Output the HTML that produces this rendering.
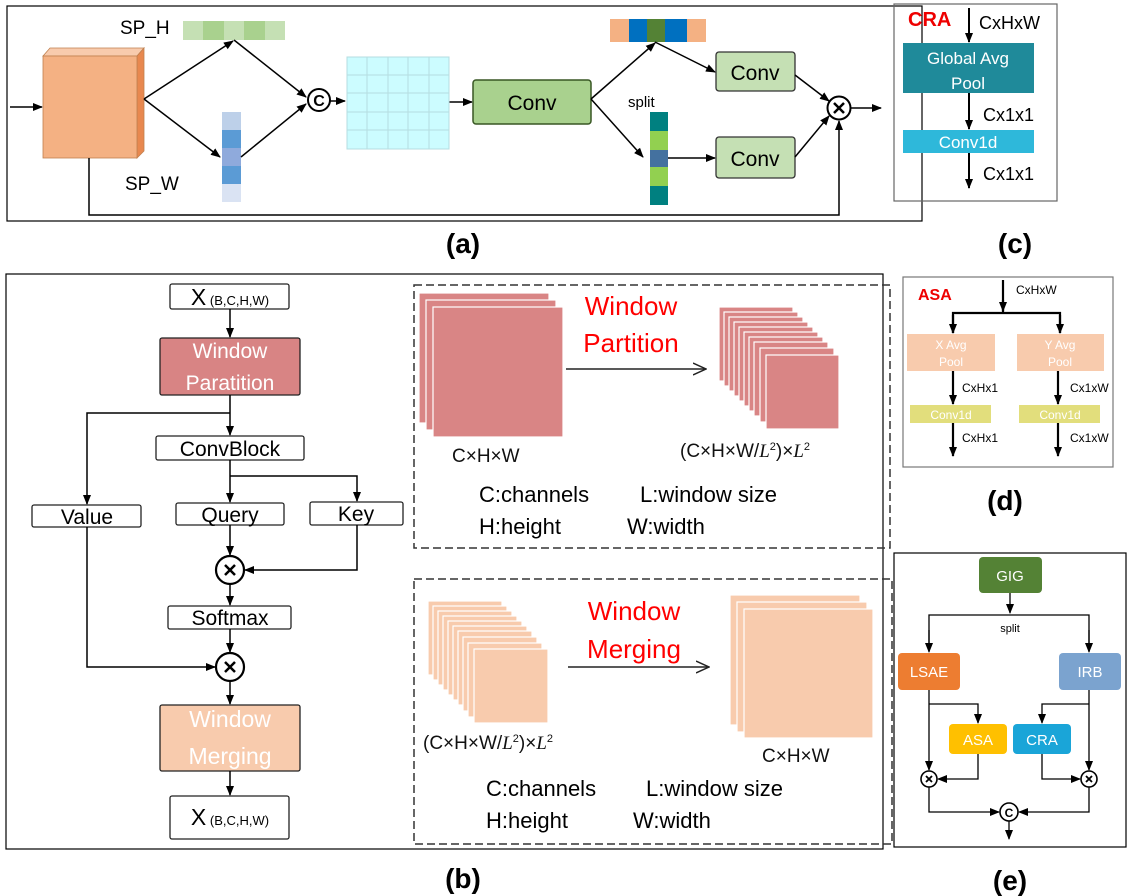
<!DOCTYPE html>
<html><head><meta charset="utf-8"><style>
html,body{margin:0;padding:0;background:#fff;}
svg{display:block;font-family:"Liberation Sans",sans-serif;}
</style></head><body>
<svg width="1132" height="896" viewBox="0 0 1132 896" xmlns="http://www.w3.org/2000/svg">
<defs>
<marker id="a" markerWidth="10" markerHeight="10" refX="9" refY="5" orient="auto" markerUnits="userSpaceOnUse"><path d="M0,1 L10,5 L0,9 z" fill="#000"/></marker>
<marker id="o" markerWidth="14" markerHeight="14" refX="13" refY="7" orient="auto" markerUnits="userSpaceOnUse"><path d="M0,1 L13,7 L0,13" fill="none" stroke="#222" stroke-width="1.5"/></marker>
</defs>
<g stroke="#000" stroke-width="1.5" fill="none">
<rect x="7" y="6" width="915" height="215" stroke-width="1.2"/>
<line x1="10" y1="107" x2="42" y2="107" marker-end="url(#a)"/>
</g>
<polygon points="43,56 50,48 144,48 137,56" fill="#F8CBAD" stroke="#C0804F" stroke-width="0.8"/>
<polygon points="137,56 144,48 144,151 137,158" fill="#E8884F" stroke="#C0804F" stroke-width="0.8"/>
<rect x="43" y="56" width="94" height="102" fill="#F4B183" stroke="#C0804F" stroke-width="0.8"/>
<text x="120" y="34" font-size="19">SP_H</text>
<text x="125" y="190" font-size="19">SP_W</text>
<rect x="183" y="21" width="20" height="19" fill="#C5E0B4"/><rect x="203" y="21" width="21" height="19" fill="#A9D18E"/><rect x="224" y="21" width="20" height="19" fill="#C5E0B4"/><rect x="244" y="21" width="21" height="19" fill="#A9D18E"/><rect x="265" y="21" width="20" height="19" fill="#C5E0B4"/>
<rect x="222" y="112" width="19" height="18" fill="#BDD0E9"/><rect x="222" y="130" width="19" height="18" fill="#5B9BD5"/><rect x="222" y="148" width="19" height="18" fill="#8FAADC"/><rect x="222" y="166" width="19" height="18" fill="#5B9BD5"/><rect x="222" y="184" width="19" height="18" fill="#DAE3F3"/>
<g stroke="#000" stroke-width="1.5" fill="none">
<line x1="144" y1="99" x2="233" y2="41" marker-end="url(#a)"/>
<line x1="144" y1="99" x2="220" y2="157" marker-end="url(#a)"/>
<line x1="234" y1="40" x2="306" y2="97" marker-end="url(#a)"/>
<line x1="241" y1="157" x2="306" y2="104" marker-end="url(#a)"/>
<circle cx="319" cy="100" r="11" stroke-width="2"/>
<line x1="330" y1="101" x2="345" y2="101" marker-end="url(#a)"/>
<line x1="449" y1="102" x2="472" y2="102" marker-end="url(#a)"/>
</g>
<text x="319" y="106" font-size="16" font-weight="bold" text-anchor="middle">C</text>
<rect x="347" y="57" width="102" height="92" fill="#CCFCFF" stroke="#B5DDE0"/>
<g stroke="#B5DDE0" stroke-width="1"><line x1="367" y1="57" x2="367" y2="149"/><line x1="388" y1="57" x2="388" y2="149"/><line x1="408" y1="57" x2="408" y2="149"/><line x1="429" y1="57" x2="429" y2="149"/><line x1="347" y1="75" x2="449" y2="75"/><line x1="347" y1="93" x2="449" y2="93"/><line x1="347" y1="112" x2="449" y2="112"/><line x1="347" y1="130" x2="449" y2="130"/></g>
<rect x="473" y="80" width="118" height="44" rx="3" fill="#A9D18E" stroke="#385723" stroke-width="1.5"/>
<text x="532" y="110" font-size="21" text-anchor="middle">Conv</text>
<rect x="610" y="19" width="19" height="23" fill="#F4B183"/><rect x="629" y="19" width="18" height="23" fill="#0070C0"/><rect x="647" y="19" width="18" height="23" fill="#548235"/><rect x="665" y="19" width="22" height="23" fill="#0070C0"/><rect x="687" y="19" width="19" height="23" fill="#F4B183"/>
<rect x="650" y="112" width="18" height="19" fill="#008080"/><rect x="650" y="131" width="18" height="19" fill="#92D050"/><rect x="650" y="150" width="18" height="17" fill="#44719F"/><rect x="650" y="167" width="18" height="19" fill="#92D050"/><rect x="650" y="186" width="18" height="19" fill="#008080"/>
<text x="628" y="107" font-size="15">split</text>
<rect x="716" y="52" width="79" height="39" rx="3" fill="#C5E0B4" stroke="#333" stroke-width="1.3"/>
<rect x="716" y="137" width="79" height="41" rx="3" fill="#C5E0B4" stroke="#333" stroke-width="1.3"/>
<text x="755" y="80" font-size="21" text-anchor="middle">Conv</text>
<text x="755" y="166" font-size="21" text-anchor="middle">Conv</text>
<g stroke="#000" stroke-width="1.5" fill="none">
<line x1="591" y1="99" x2="655" y2="43" marker-end="url(#a)"/>
<line x1="591" y1="99" x2="643" y2="157" marker-end="url(#a)"/>
<line x1="655" y1="42" x2="715" y2="72" marker-end="url(#a)"/>
<line x1="668" y1="158" x2="715" y2="158" marker-end="url(#a)"/>
<line x1="795" y1="75" x2="829" y2="101" marker-end="url(#a)"/>
<line x1="795" y1="157" x2="829" y2="116" marker-end="url(#a)"/>
<circle cx="839" cy="108" r="11.5" stroke-width="2"/>
<path d="M834,103 L844,113 M844,103 L834,113" stroke-width="2.5"/>
<line x1="851" y1="108" x2="881" y2="108" marker-end="url(#a)"/>
<polyline points="89,158 89,215 839,215 839,121" marker-end="url(#a)"/>
</g>
<!-- (c) -->
<rect x="894" y="4" width="163" height="197" fill="none" stroke="#666" stroke-width="1.2"/>
<text x="908" y="26" font-size="20" font-weight="bold" fill="#E00">CRA</text>
<text x="979" y="29" font-size="18">CxHxW</text>
<rect x="903" y="43" width="131" height="50" fill="#1F8A9A"/>
<text x="968" y="64" font-size="17" fill="#fff" text-anchor="middle">Global Avg</text>
<text x="968" y="89" font-size="17" fill="#fff" text-anchor="middle">Pool</text>
<rect x="903" y="130" width="131" height="23" fill="#2EB8DA"/>
<text x="968" y="148" font-size="17" fill="#fff" text-anchor="middle">Conv1d</text>
<text x="983" y="121" font-size="18">Cx1x1</text>
<text x="983" y="180" font-size="18">Cx1x1</text>
<g stroke="#000" stroke-width="2" fill="none">
<line x1="969" y1="8" x2="969" y2="42" marker-end="url(#a)"/>
<line x1="969" y1="93" x2="969" y2="129" marker-end="url(#a)"/>
<line x1="969" y1="153" x2="969" y2="188" marker-end="url(#a)"/>
</g>
<g font-size="28" font-weight="bold" text-anchor="middle">
<text x="463" y="253">(a)</text><text x="1015" y="253">(c)</text><text x="463" y="888">(b)</text><text x="1005" y="510">(d)</text><text x="1010" y="890">(e)</text>
</g>
<!-- (b) -->
<rect x="6" y="274" width="877" height="575" fill="none" stroke="#000" stroke-width="1.2"/>
<g stroke="#222" stroke-width="1.3" fill="#fff">
<rect x="170" y="284" width="119" height="25" rx="2"/>
<rect x="156" y="436" width="148" height="24" rx="2"/>
<rect x="32" y="505" width="109" height="22" rx="2"/>
<rect x="176" y="503" width="108" height="22" rx="2"/>
<rect x="310" y="502" width="93" height="23" rx="2"/>
<rect x="168" y="606" width="123" height="23" rx="2"/>
<rect x="170" y="796" width="119" height="43" rx="2"/>
<rect x="160" y="338" width="140" height="57" rx="2" fill="#D88484"/>
<rect x="160" y="705" width="140" height="66" rx="2" fill="#F8CBAD"/>
</g>
<g font-size="21" text-anchor="middle">
<text x="230" y="305"><tspan font-size="23">X</tspan><tspan font-size="13"> (B,C,H,W)</tspan></text>
<text x="230" y="825"><tspan font-size="23">X</tspan><tspan font-size="13"> (B,C,H,W)</tspan></text>
<text x="230" y="456">ConvBlock</text>
<text x="87" y="524">Value</text>
<text x="230" y="522">Query</text>
<text x="356" y="521">Key</text>
<text x="230" y="625">Softmax</text>
<text x="230" y="358" fill="#fff">Window</text>
<text x="230" y="390" fill="#fff">Paratition</text>
<text x="230" y="727" fill="#fff" font-size="23">Window</text>
<text x="230" y="764" fill="#fff" font-size="23">Merging</text>
</g>
<g stroke="#000" stroke-width="1.5" fill="none">
<line x1="230" y1="309" x2="230" y2="337" marker-end="url(#a)"/>
<line x1="230" y1="395" x2="230" y2="435" marker-end="url(#a)"/>
<polyline points="230,413 87,413 87,504" marker-end="url(#a)"/>
<line x1="230" y1="460" x2="230" y2="502" marker-end="url(#a)"/>
<polyline points="230,476 357,476 357,501" marker-end="url(#a)"/>
<line x1="230" y1="525" x2="230" y2="555" marker-end="url(#a)"/>
<polyline points="357,525 357,570 245,570" marker-end="url(#a)"/>
<circle cx="230" cy="570" r="14" stroke-width="2.2"/>
<path d="M225,565 L235,575 M235,565 L225,575" stroke-width="2.5"/>
<line x1="230" y1="584" x2="230" y2="605" marker-end="url(#a)"/>
<line x1="230" y1="629" x2="230" y2="652" marker-end="url(#a)"/>
<circle cx="230" cy="667" r="14" stroke-width="2.2"/>
<path d="M225,662 L235,672 M235,662 L225,672" stroke-width="2.5"/>
<polyline points="87,527 87,667 215,667" marker-end="url(#a)"/>
<line x1="230" y1="681" x2="230" y2="704" marker-end="url(#a)"/>
<line x1="230" y1="771" x2="230" y2="795" marker-end="url(#a)"/>
</g>
<g fill="none" stroke="#333" stroke-width="1.5" stroke-dasharray="8,4">
<rect x="414" y="285" width="476" height="263"/>
<rect x="414" y="579" width="478" height="265"/>
</g>
<g fill="#D98585" stroke="#fff" stroke-width="1.2">
<rect x="419" y="293" width="130" height="130"/><rect x="426" y="300" width="130" height="130"/><rect x="433" y="307" width="130" height="130"/>
<rect x="719" y="307" width="74" height="74"/><rect x="724" y="312" width="74" height="74"/><rect x="729" y="317" width="74" height="74"/><rect x="734" y="322" width="74" height="74"/><rect x="739" y="327" width="74" height="74"/><rect x="744" y="332" width="74" height="74"/><rect x="749" y="337" width="74" height="74"/><rect x="754" y="342" width="74" height="74"/><rect x="760" y="348" width="74" height="74"/><rect x="766" y="355" width="73" height="74"/>
</g>
<g fill="#F8CBAD" stroke="#fff" stroke-width="1.2">
<rect x="428" y="601" width="74" height="74"/><rect x="433" y="606" width="74" height="74"/><rect x="438" y="611" width="74" height="74"/><rect x="443" y="616" width="74" height="74"/><rect x="448" y="621" width="74" height="74"/><rect x="453" y="626" width="74" height="74"/><rect x="458" y="631" width="74" height="74"/><rect x="463" y="637" width="74" height="74"/><rect x="468" y="643" width="74" height="74"/><rect x="474" y="649" width="74" height="74"/>
<rect x="730" y="595" width="130" height="130"/><rect x="737" y="602" width="130" height="130"/><rect x="744" y="609" width="129" height="129"/>
</g>
<g stroke="#222" stroke-width="1.5" fill="none">
<line x1="566" y1="369" x2="706" y2="369" marker-end="url(#o)"/>
<line x1="568" y1="667" x2="709" y2="667" marker-end="url(#o)"/>
</g>
<g fill="#F00" font-size="26" text-anchor="middle">
<text x="631" y="315">Window</text><text x="631" y="352">Partition</text>
<text x="634" y="620">Window</text><text x="634" y="658">Merging</text>
</g>
<g font-size="19" fill="#111">
<text x="452" y="462">C×H×W</text>
<text x="680" y="457">(C×H×W/<tspan font-style="italic" font-family="Liberation Serif">L</tspan><tspan font-size="11" dy="-7">2</tspan><tspan dy="7">)×</tspan><tspan font-style="italic" font-family="Liberation Serif">L</tspan><tspan font-size="11" dy="-7">2</tspan></text>
<text x="423" y="749">(C×H×W/<tspan font-style="italic" font-family="Liberation Serif">L</tspan><tspan font-size="11" dy="-7">2</tspan><tspan dy="7">)×</tspan><tspan font-style="italic" font-family="Liberation Serif">L</tspan><tspan font-size="11" dy="-7">2</tspan></text>
<text x="762" y="762">C×H×W</text>
</g>
<g font-size="22">
<text x="479" y="502">C:channels</text><text x="640" y="502">L:window size</text>
<text x="479" y="534">H:height</text><text x="627" y="534">W:width</text>
<text x="486" y="796">C:channels</text><text x="646" y="796">L:window size</text>
<text x="486" y="828">H:height</text><text x="633" y="828">W:width</text>
</g>
<!-- (d) -->
<rect x="903" y="277" width="210" height="190" fill="none" stroke="#777" stroke-width="1.2"/>
<text x="918" y="300" font-size="16" font-weight="bold" fill="#E00">ASA</text>
<text x="1016" y="294" font-size="12">CxHxW</text>
<rect x="907" y="334" width="88" height="37" fill="#F8CBAD"/><rect x="1017" y="334" width="87" height="37" fill="#F8CBAD"/>
<rect x="910" y="405" width="81" height="18" fill="#E2DE7C"/><rect x="1019" y="405" width="81" height="18" fill="#E2DE7C"/>
<g font-size="12" fill="#fff" text-anchor="middle">
<text x="951" y="349">X Avg</text><text x="951" y="366">Pool</text>
<text x="1060" y="349">Y Avg</text><text x="1060" y="366">Pool</text>
<text x="951" y="419">Conv1d</text><text x="1060" y="419">Conv1d</text>
</g>
<g font-size="12"><text x="962" y="392">CxHx1</text><text x="1070" y="392">Cx1xW</text><text x="962" y="442">CxHx1</text><text x="1070" y="442">Cx1xW</text></g>
<g stroke="#000" stroke-width="2.2" fill="none">
<line x1="1003" y1="280" x2="1003" y2="313"/>
<polyline points="953,333 953,313 1060,313 1060,333"/>
<line x1="953" y1="315" x2="953" y2="333" marker-end="url(#a)"/>
<line x1="1060" y1="315" x2="1060" y2="333" marker-end="url(#a)"/>
<line x1="1003" y1="300" x2="1003" y2="311" marker-end="url(#a)"/>
<line x1="953" y1="371" x2="953" y2="404" marker-end="url(#a)"/>
<line x1="1058" y1="371" x2="1058" y2="404" marker-end="url(#a)"/>
<line x1="953" y1="423" x2="953" y2="456" marker-end="url(#a)"/>
<line x1="1058" y1="423" x2="1058" y2="456" marker-end="url(#a)"/>
</g>
<!-- (e) -->
<rect x="894" y="553" width="232" height="294" fill="none" stroke="#000" stroke-width="1.2"/>
<rect x="979" y="557" width="63" height="36" rx="4" fill="#548235"/>
<rect x="898" y="653" width="62" height="37" rx="4" fill="#ED7D31"/>
<rect x="1059" y="653" width="62" height="37" rx="4" fill="#7BA3CF"/>
<rect x="949" y="724" width="58" height="30" rx="4" fill="#FFC000"/>
<rect x="1013" y="724" width="58" height="30" rx="4" fill="#1AA5D8"/>
<g font-size="15" fill="#fff" text-anchor="middle">
<text x="1010" y="581">GIG</text><text x="929" y="677">LSAE</text><text x="1090" y="677">IRB</text>
<text x="978" y="745">ASA</text><text x="1042" y="745">CRA</text>
</g>
<text x="1010" y="632" font-size="11" text-anchor="middle">split</text>
<g stroke="#000" stroke-width="1.3" fill="none">
<line x1="1010" y1="593" x2="1010" y2="613" marker-end="url(#a)"/>
<polyline points="929,651 929,615 1089,615 1089,651"/>
<line x1="929" y1="630" x2="929" y2="652" marker-end="url(#a)"/>
<line x1="1089" y1="630" x2="1089" y2="652" marker-end="url(#a)"/>
<line x1="929" y1="690" x2="929" y2="770" marker-end="url(#a)"/>
<polyline points="929,704 978,704 978,723" marker-end="url(#a)"/>
<line x1="1089" y1="690" x2="1089" y2="770" marker-end="url(#a)"/>
<polyline points="1089,704 1042,704 1042,723" marker-end="url(#a)"/>
<polyline points="978,754 978,779 938,779" marker-end="url(#a)"/>
<polyline points="1042,754 1042,779 1080,779" marker-end="url(#a)"/>
<circle cx="929" cy="779" r="8" stroke-width="1.6"/>
<circle cx="1089" cy="779" r="8" stroke-width="1.6"/>
<path d="M926,776 L932,782 M932,776 L926,782 M1086,776 L1092,782 M1092,776 L1086,782" stroke-width="1.8"/>
<polyline points="929,787 929,812 999,812" marker-end="url(#a)"/>
<polyline points="1089,787 1089,812 1019,812" marker-end="url(#a)"/>
<circle cx="1009" cy="812" r="9" stroke-width="1.6"/>
<line x1="1009" y1="821" x2="1009" y2="839" marker-end="url(#a)"/>
</g>
<text x="1009" y="817" font-size="12" font-weight="bold" text-anchor="middle">C</text>
</svg>
</body></html>
